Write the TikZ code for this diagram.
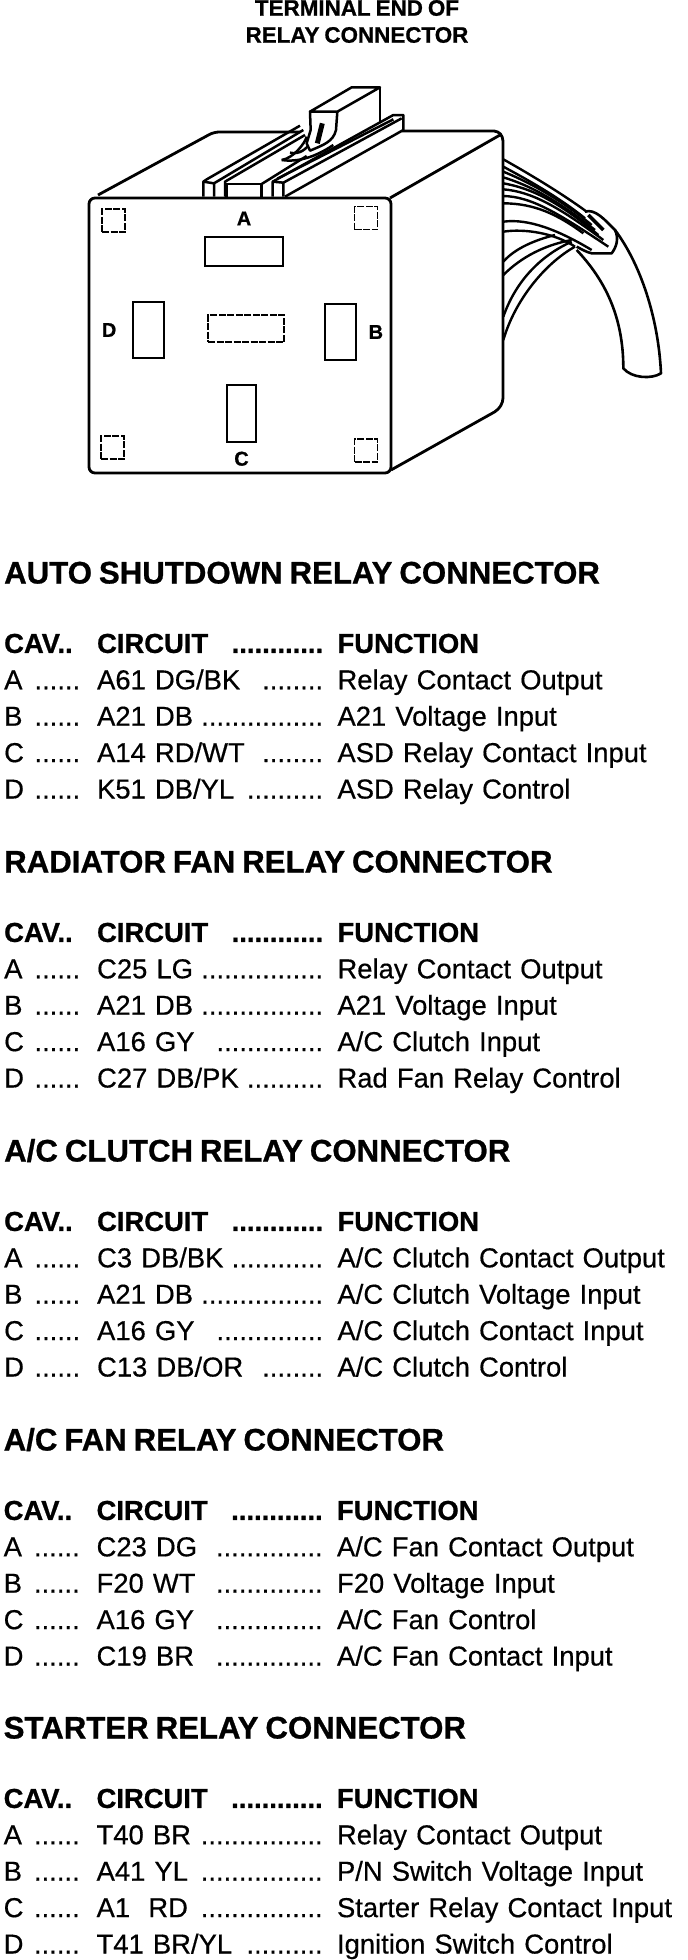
\documentclass[tikz,border=0pt]{standalone}
\usepackage{fontspec}
\setmainfont[WordSpace=0.8, UprightFeatures={FakeBold=0.5}, BoldFeatures={FakeBold=0.8}]{Liberation Sans}
\usetikzlibrary{positioning}

\newcommand{\leadrow}[3]{\hbox to #1{#2\hfill #3}}

\tikzset{
    outline/.style={line width=2.8pt, line join=round},
    cavity/.style={draw, line width=2.9pt, inner sep=0pt},
    hidden/.style={draw, line width=1.8pt, dash pattern=on 7pt off 1.5pt, inner sep=0pt, minimum width=23pt, minimum height=23pt},
    cavlabel/.style={font=\fontsize{20}{20}\selectfont\bfseries, inner sep=0pt},
    topline/.style={font=\fontsize{22.4}{22.4}\selectfont\bfseries, inner sep=0pt},
    sectitle/.style={font=\fontsize{31.2}{31.2}\selectfont\bfseries, inner sep=0pt, anchor=west, text height=23pt, text depth=0pt},
    colcav/.style={font=\fontsize{27.4}{27.4}\selectfont, inner sep=0pt, text height=21pt, text depth=7pt, text width=92.5pt},
    colcir/.style={colcav, text width=240pt},
    colfun/.style={colcav, text width=350pt},
    bold/.style={font=\fontsize{27.4}{27.4}\selectfont\bfseries}
}

\begin{document}
\begin{tikzpicture}[x=1pt, y=-1pt, node distance=8pt]
    \useasboundingbox (0,0) rectangle (688,1960);

    % heading
    \node (top1) [topline] at (357,8) {TERMINAL END OF};
    \node (top2) [topline] at (357,35) {RELAY CONNECTOR};

    % relay body
    \draw[outline, rounded corners=4pt] (391,470) -- (498,410) -- (503,402) -- (503,137) -- (498,131) -- (402,131);
    \draw[outline, rounded corners=5pt] (300,132) -- (214,132) -- (98,195);
    \draw[outline] (500,135) -- (390,198);
    \node (body) [draw, line width=2.8pt, rounded corners=6pt, inner sep=0pt, minimum width=302pt, minimum height=275pt] at (240,335.5) {};

    % rails on top
    \begin{scope}[shift={(190,80)}, scale=1/3, line width=2.5pt, line join=round]
        \draw (40,350) -- (40,305) -- (52,297) -- (330,137);
        \draw (72,350) -- (72,310) -- (40,305);
        \draw (72,310) -- (340,150);
        \draw (105,350) -- (105,305) -- (345,165);
        \draw (110,350) -- (110,312) -- (215,312) -- (215,350);
        \draw (215,312) -- (350,228);
        \draw (248,350) -- (248,305) -- (610,105) -- (640,105) -- (640,150) -- (285,350);
        \draw (280,350) -- (280,308) -- (635,115);
        \draw (248,305) -- (280,308);
        \draw (262,296) -- (610,118);
        \draw (275,240) .. controls (310,235) and (345,190) .. (350,170);
        \draw (275,240) .. controls (340,250) and (400,215) .. (430,195);
        \draw (300,218) .. controls (330,225) and (350,205) .. (360,190);
        % latch block
        \draw[fill=white] (360,95) -- (442,95) -- (438,150) .. controls (430,185) and (400,195) .. (360,212) -- (350,190) -- (362,150) -- cycle;
        \draw[fill=white] (360,95) -- (485,22) -- (570,22) -- (442,95) -- cycle;
        \draw (570,22) -- (570,125);
        \draw[line width=5pt] (397,130) -- (382,190);
    \end{scope}

    % wires and tube
    \begin{scope}[shift={(495,150)}, scale=1/3, line width=2.4pt, line join=round]
        \draw (25,28) .. controls (100,70) and (200,130) .. (275,185);
        \draw (25,50) .. controls (90,85) and (190,140) .. (270,205);
        \draw (25,65) .. controls (100,95) and (200,150) .. (290,225);
        \draw (25,82) .. controls (100,105) and (180,145) .. (300,240);
        \draw (25,100) .. controls (110,115) and (190,155) .. (310,255);
        \draw (25,118) .. controls (110,125) and (190,170) .. (325,270);
        \draw (25,138) .. controls (110,140) and (190,190) .. (340,290);
        \draw (25,160) .. controls (120,160) and (190,195) .. (265,250);
        \draw (25,215) .. controls (100,205) and (190,240) .. (290,300);
        \draw (25,245) .. controls (90,235) and (180,250) .. (240,290);
        \draw (25,335) .. controls (60,295) and (120,270) .. (180,255);
        \draw (25,375) .. controls (80,320) and (150,285) .. (230,270);
        \draw (25,500) .. controls (60,400) and (130,320) .. (230,275);
        \draw (25,570) .. controls (60,450) and (150,340) .. (240,290);
        \draw[line width=2.6pt] (270,185) .. controls (300,175) and (330,210) .. (360,240) .. controls (372,265) and (365,290) .. (350,310) -- (290,310) .. controls (270,305) and (255,295) .. (245,290);
        \draw[line width=2.6pt] (360,240) .. controls (435,340) and (490,500) .. (498,670) .. controls (470,688) and (410,685) .. (385,655) .. controls (385,500) and (330,390) .. (245,300);
        \draw[line width=3.5pt] (280,195) -- (325,240);
    \end{scope}

    % cavities
    \node (cavA) [cavity, minimum width=78pt, minimum height=29pt] at (244,251.5) {};
    \node (cavB) [cavity, minimum width=31pt, minimum height=56pt] at (340.5,332) {};
    \node (cavC) [cavity, minimum width=29pt, minimum height=57pt] at (241.5,413.5) {};
    \node (cavD) [cavity, minimum width=31pt, minimum height=56pt] at (148.5,330) {};
    \node (cavE) [hidden, minimum width=76pt, minimum height=27pt] at (246,328.5) {};
    \node (corTL) [hidden] at (113.5,220.5) {};
    \node (corTR) [hidden] at (366,218) {};
    \node (corBL) [hidden] at (112.5,447.5) {};
    \node (corBR) [hidden] at (366,450.5) {};
    \node (labA) [cavlabel, above=10pt of cavA] {A};
    \node (labB) [cavlabel, right=11pt of cavB] {B};
    \node (labC) [cavlabel, below=8pt of cavC] {C};
    \node (labD) [cavlabel, left=15pt of cavD] {D};

    % auto shutdown
    \node (asdT) [sectitle] at (4,572) {AUTO SHUTDOWN RELAY CONNECTOR};
    \node (asdH) [colcav, bold, below=48pt of asdT.south west, anchor=north west] {CAV..};
    \node (asdHc) [colcir, bold, right=0pt of asdH] {\leadrow{226pt}{CIRCUIT}{............}};
    \node (asdHf) [colfun, bold, right=0pt of asdHc] {FUNCTION};
    \node (asdA) [colcav, below=of asdH] {\leadrow{76pt}{A}{......}};
    \node (asdAc) [colcir, right=0pt of asdA] {\leadrow{226pt}{A61 DG/BK}{........}};
    \node (asdAf) [colfun, right=0pt of asdAc] {Relay Contact Output};
    \node (asdB) [colcav, below=of asdA] {\leadrow{76pt}{B}{......}};
    \node (asdBc) [colcir, right=0pt of asdB] {\leadrow{226pt}{A21 DB}{................}};
    \node (asdBf) [colfun, right=0pt of asdBc] {A21 Voltage Input};
    \node (asdC) [colcav, below=of asdB] {\leadrow{76pt}{C}{......}};
    \node (asdCc) [colcir, right=0pt of asdC] {\leadrow{226pt}{A14 RD/WT}{........}};
    \node (asdCf) [colfun, right=0pt of asdCc] {ASD Relay Contact Input};
    \node (asdD) [colcav, below=of asdC] {\leadrow{76pt}{D}{......}};
    \node (asdDc) [colcir, right=0pt of asdD] {\leadrow{226pt}{K51 DB/YL}{..........}};
    \node (asdDf) [colfun, right=0pt of asdDc] {ASD Relay Control};

    % radiator fan
    \node (radT) [sectitle] at (4,861) {RADIATOR FAN RELAY CONNECTOR};
    \node (radH) [colcav, bold, below=48pt of radT.south west, anchor=north west] {CAV..};
    \node (radHc) [colcir, bold, right=0pt of radH] {\leadrow{226pt}{CIRCUIT}{............}};
    \node (radHf) [colfun, bold, right=0pt of radHc] {FUNCTION};
    \node (radA) [colcav, below=of radH] {\leadrow{76pt}{A}{......}};
    \node (radAc) [colcir, right=0pt of radA] {\leadrow{226pt}{C25 LG}{................}};
    \node (radAf) [colfun, right=0pt of radAc] {Relay Contact Output};
    \node (radB) [colcav, below=of radA] {\leadrow{76pt}{B}{......}};
    \node (radBc) [colcir, right=0pt of radB] {\leadrow{226pt}{A21 DB}{................}};
    \node (radBf) [colfun, right=0pt of radBc] {A21 Voltage Input};
    \node (radC) [colcav, below=of radB] {\leadrow{76pt}{C}{......}};
    \node (radCc) [colcir, right=0pt of radC] {\leadrow{226pt}{A16 GY}{..............}};
    \node (radCf) [colfun, right=0pt of radCc] {A/C Clutch Input};
    \node (radD) [colcav, below=of radC] {\leadrow{76pt}{D}{......}};
    \node (radDc) [colcir, right=0pt of radD] {\leadrow{226pt}{C27 DB/PK}{..........}};
    \node (radDf) [colfun, right=0pt of radDc] {Rad Fan Relay Control};

    % a/c clutch
    \node (cluT) [sectitle] at (4,1150) {A/C CLUTCH RELAY CONNECTOR};
    \node (cluH) [colcav, bold, below=48pt of cluT.south west, anchor=north west] {CAV..};
    \node (cluHc) [colcir, bold, right=0pt of cluH] {\leadrow{226pt}{CIRCUIT}{............}};
    \node (cluHf) [colfun, bold, right=0pt of cluHc] {FUNCTION};
    \node (cluA) [colcav, below=of cluH] {\leadrow{76pt}{A}{......}};
    \node (cluAc) [colcir, right=0pt of cluA] {\leadrow{226pt}{C3 DB/BK}{............}};
    \node (cluAf) [colfun, right=0pt of cluAc] {A/C Clutch Contact Output};
    \node (cluB) [colcav, below=of cluA] {\leadrow{76pt}{B}{......}};
    \node (cluBc) [colcir, right=0pt of cluB] {\leadrow{226pt}{A21 DB}{................}};
    \node (cluBf) [colfun, right=0pt of cluBc] {A/C Clutch Voltage Input};
    \node (cluC) [colcav, below=of cluB] {\leadrow{76pt}{C}{......}};
    \node (cluCc) [colcir, right=0pt of cluC] {\leadrow{226pt}{A16 GY}{..............}};
    \node (cluCf) [colfun, right=0pt of cluCc] {A/C Clutch Contact Input};
    \node (cluD) [colcav, below=of cluC] {\leadrow{76pt}{D}{......}};
    \node (cluDc) [colcir, right=0pt of cluD] {\leadrow{226pt}{C13 DB/OR}{........}};
    \node (cluDf) [colfun, right=0pt of cluDc] {A/C Clutch Control};

    % a/c fan
    \node (fanT) [sectitle] at (3.5,1439) {A/C FAN RELAY CONNECTOR};
    \node (fanH) [colcav, bold, below=48pt of fanT.south west, anchor=north west] {CAV..};
    \node (fanHc) [colcir, bold, right=0pt of fanH] {\leadrow{226pt}{CIRCUIT}{............}};
    \node (fanHf) [colfun, bold, right=0pt of fanHc] {FUNCTION};
    \node (fanA) [colcav, below=of fanH] {\leadrow{76pt}{A}{......}};
    \node (fanAc) [colcir, right=0pt of fanA] {\leadrow{226pt}{C23 DG}{..............}};
    \node (fanAf) [colfun, right=0pt of fanAc] {A/C Fan Contact Output};
    \node (fanB) [colcav, below=of fanA] {\leadrow{76pt}{B}{......}};
    \node (fanBc) [colcir, right=0pt of fanB] {\leadrow{226pt}{F20 WT}{..............}};
    \node (fanBf) [colfun, right=0pt of fanBc] {F20 Voltage Input};
    \node (fanC) [colcav, below=of fanB] {\leadrow{76pt}{C}{......}};
    \node (fanCc) [colcir, right=0pt of fanC] {\leadrow{226pt}{A16 GY}{..............}};
    \node (fanCf) [colfun, right=0pt of fanCc] {A/C Fan Control};
    \node (fanD) [colcav, below=of fanC] {\leadrow{76pt}{D}{......}};
    \node (fanDc) [colcir, right=0pt of fanD] {\leadrow{226pt}{C19 BR}{..............}};
    \node (fanDf) [colfun, right=0pt of fanDc] {A/C Fan Contact Input};

    % starter
    \node (staT) [sectitle] at (3.5,1727) {STARTER RELAY CONNECTOR};
    \node (staH) [colcav, bold, below=48pt of staT.south west, anchor=north west] {CAV..};
    \node (staHc) [colcir, bold, right=0pt of staH] {\leadrow{226pt}{CIRCUIT}{............}};
    \node (staHf) [colfun, bold, right=0pt of staHc] {FUNCTION};
    \node (staA) [colcav, below=of staH] {\leadrow{76pt}{A}{......}};
    \node (staAc) [colcir, right=0pt of staA] {\leadrow{226pt}{T40 BR}{................}};
    \node (staAf) [colfun, right=0pt of staAc] {Relay Contact Output};
    \node (staB) [colcav, below=of staA] {\leadrow{76pt}{B}{......}};
    \node (staBc) [colcir, right=0pt of staB] {\leadrow{226pt}{A41 YL}{................}};
    \node (staBf) [colfun, right=0pt of staBc] {P/N Switch Voltage Input};
    \node (staC) [colcav, below=of staB] {\leadrow{76pt}{C}{......}};
    \node (staCc) [colcir, right=0pt of staC] {\leadrow{226pt}{A1\ \ RD}{................}};
    \node (staCf) [colfun, right=0pt of staCc] {Starter Relay Contact Input};
    \node (staD) [colcav, below=of staC] {\leadrow{76pt}{D}{......}};
    \node (staDc) [colcir, right=0pt of staD] {\leadrow{226pt}{T41 BR/YL}{..........}};
    \node (staDf) [colfun, right=0pt of staDc] {Ignition Switch Control};
\end{tikzpicture}
\end{document}
